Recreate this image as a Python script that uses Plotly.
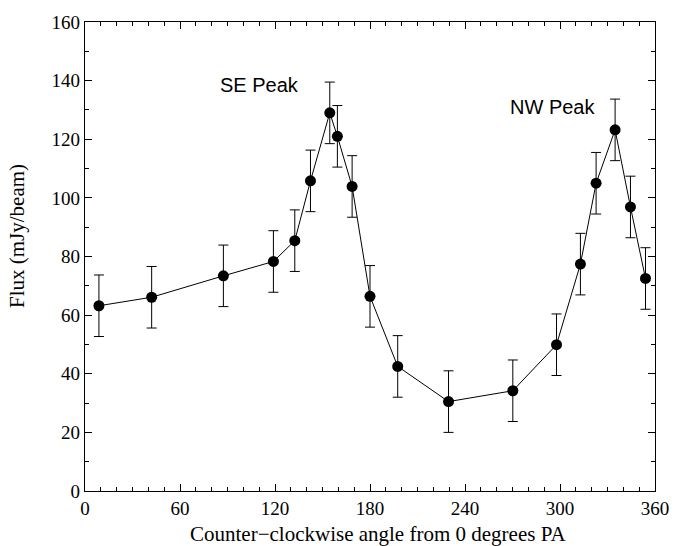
import plotly.graph_objects as go

angle = [8.8, 42.1, 87.4, 119.0, 132.5, 142.4, 154.6, 159.4, 168.7, 180.0,
         197.5, 229.6, 270.2, 297.8, 312.9, 322.8, 334.8, 344.5, 354.0]
flux = [63.2, 66.1, 73.4, 78.3, 85.4, 105.8, 129.0, 121.0, 103.9, 66.4,
        42.5, 30.5, 34.2, 49.9, 77.4, 105.0, 123.2, 96.9, 72.5]
flux_err = [10.5] * len(flux)

x_ticks = [0, 60, 120, 180, 240, 300, 360]
y_ticks = [0, 20, 40, 60, 80, 100, 120, 140, 160]

serif = "Liberation Serif, Times New Roman, serif"
sans = "Liberation Sans, Arial, sans-serif"

fig = go.Figure()
fig.add_trace(go.Scatter(
    x=angle, y=flux, mode="lines+markers",
    line=dict(color="black", width=1),
    marker=dict(color="black", size=11),
    error_y=dict(type="data", array=flux_err, visible=True,
                 color="black", thickness=1, width=5),
    showlegend=False,
))

axis_common = dict(
    showline=True, linecolor="black", linewidth=1.3, mirror="ticks",
    ticks="inside", ticklen=7, tickwidth=1, tickcolor="black",
    showgrid=False, zeroline=False,
    tickfont=dict(family=serif, size=19, color="black"),
)

fig.update_xaxes(range=[0, 360], tickvals=x_ticks, ticktext=[str(v) for v in x_ticks],
                 minor=dict(dtick=10, ticks="inside", ticklen=4, tickcolor="black", showgrid=False),
                 **axis_common)
fig.update_yaxes(range=[0, 160], tickvals=y_ticks, ticktext=[str(v) for v in y_ticks],
                 minor=dict(dtick=10, ticks="inside", ticklen=4, tickcolor="black", showgrid=False),
                 **axis_common)

fig.add_annotation(x=110, y=138.4, text="SE Peak", showarrow=False,
                   font=dict(family=sans, size=20, color="black"))
fig.add_annotation(x=295, y=131.1, text="NW Peak", showarrow=False,
                   font=dict(family=sans, size=20, color="black"))

fig.add_annotation(xref="paper", yref="paper", x=0.514, y=0, yshift=-43,
                   yanchor="middle", borderpad=0,
                   text="Counter\u2212clockwise angle from 0 degrees PA",
                   showarrow=False, font=dict(family=serif, size=21, color="black"))
fig.add_annotation(xref="paper", yref="y", x=0, xshift=-68, y=87,
                   xanchor="center", yanchor="middle", textangle=-90,
                   text="Flux (mJy/beam)", showarrow=False,
                   font=dict(family=serif, size=21, color="black"))

fig.update_layout(
    width=687, height=546,
    margin=dict(l=85, r=32, t=18, b=54.5),
    plot_bgcolor="white", paper_bgcolor="white",
)

fig.write_html("out.html", config={"displayModeBar": False},
               post_script="document.body.style.margin='0px';document.body.style.padding='0px';")
